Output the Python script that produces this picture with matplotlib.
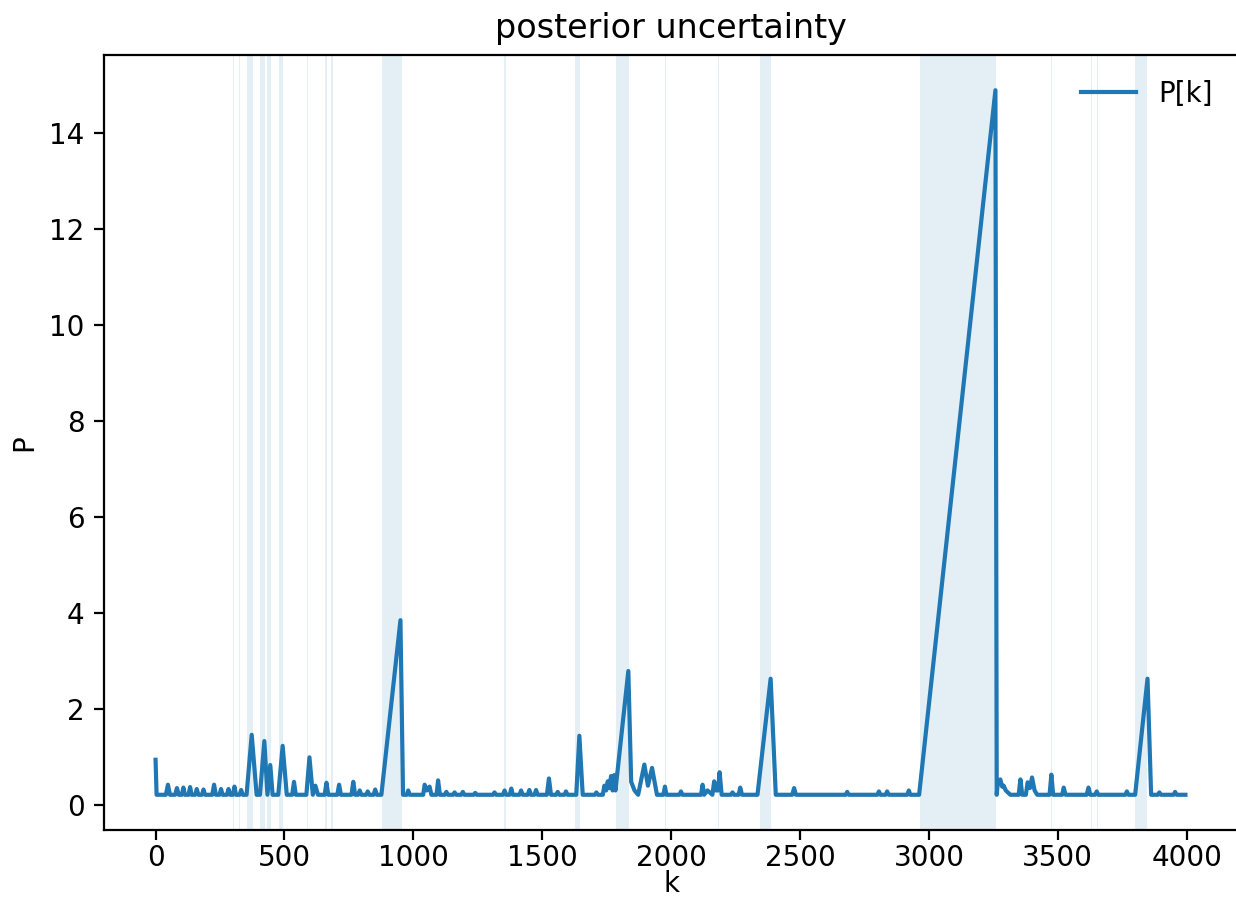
import matplotlib
matplotlib.use("Agg")
import matplotlib.pyplot as plt

B = 0.21  # floor level of P between spikes

# P[k] vertices
trace_k = [
    0, 4, 40, 48, 56, 76, 83, 90, 102, 108, 114, 128, 134, 140, 154, 160, 166,
    180, 186, 192, 220, 227, 234, 248, 254, 260, 277, 283, 289, 300, 306, 312,
    326, 332, 338, 353, 373, 392, 405, 422, 434, 445, 454, 476, 493, 509,
    530, 537, 544, 585, 597, 610, 620, 630, 656, 663, 670, 705, 712, 719,
    760, 767, 774, 786, 792, 798, 817, 823, 829, 846, 852, 858, 876, 950, 960,
    975, 980, 986, 1038, 1044, 1052, 1063, 1070, 1090, 1096, 1103, 1122, 1128,
    1134, 1154, 1160, 1166, 1186, 1192, 1198, 1234, 1240, 1246, 1309, 1315,
    1321, 1348, 1354, 1360, 1374, 1380, 1386, 1412, 1418, 1424, 1444, 1450,
    1456, 1470, 1476, 1482, 1518, 1526, 1534, 1554, 1560, 1566, 1586, 1592,
    1598, 1632, 1644, 1657, 1704, 1710, 1716, 1735, 1741, 1748, 1754, 1760,
    1767, 1773, 1779, 1784, 1834, 1845, 1858, 1872, 1896, 1910, 1926, 1945,
    1970, 1976, 1982, 2032, 2038, 2044, 2116, 2122, 2128, 2141, 2160, 2167,
    2174, 2182, 2188, 2196, 2232, 2238, 2244, 2262, 2268, 2275, 2335, 2386,
    2406, 2470, 2477, 2484, 2677, 2683, 2689, 2800, 2806, 2812, 2832, 2838,
    2844, 2916, 2922, 2928, 2962, 3258, 3263, 3268, 3277, 3284, 3290, 3298,
    3316, 3348, 3355, 3362, 3376, 3383, 3392, 3400, 3410, 3420, 3468, 3475,
    3482, 3517, 3523, 3530, 3612, 3619, 3626, 3645, 3651, 3657, 3762, 3768,
    3774, 3800, 3848, 3862, 3888, 3894, 3900, 3949, 3955, 3961, 3995,
]
trace_p = [
    0.94, B, B, 0.42, B, B, 0.35, B, B, 0.36, B, B, 0.37, B, B, 0.33, B,
    B, 0.32, B, B, 0.42, B, B, 0.33, B, B, 0.33, B, B, 0.38, B,
    B, 0.31, B, B, 1.46, B, B, 1.33, B, 0.83, B, B, 1.23, B,
    B, 0.48, B, B, 0.99, B, 0.40, B, B, 0.46, B, B, 0.42, B,
    B, 0.48, B, B, 0.30, B, B, 0.28, B, B, 0.32, B, B, 3.85, B,
    B, 0.30, B, B, 0.42, 0.30, 0.38, B, B, 0.51, B, B, 0.27,
    B, B, 0.26, B, B, 0.27, B, B, 0.25, B, B, 0.26,
    B, B, 0.30, B, B, 0.34, B, B, 0.30, B, B, 0.31,
    B, B, 0.31, B, B, 0.55, B, B, 0.27, B, B, 0.28,
    B, B, 1.44, B, B, 0.26, B, B, 0.40, 0.30, 0.49, 0.35,
    0.60, 0.30, 0.62, 0.30, 2.79, 0.48, 0.30, B, 0.84, 0.40, 0.77, B,
    B, 0.38, B, B, 0.28, B, B, 0.42, B, 0.30, B, 0.49,
    0.30, 0.30, 0.68, B, B, 0.26, B, B, 0.36, B, B, 2.63,
    B, B, 0.35, B, B, 0.27, B, B, 0.28, B, B, 0.28,
    B, B, 0.30, B, B, 14.9, B, 0.50, 0.53, 0.38, 0.40, 0.30,
    B, B, 0.53, B, B, 0.47, 0.35, 0.57, 0.30, B, B, 0.63,
    B, B, 0.36, B, B, 0.36, B, B, 0.28, B, B, 0.28,
    B, B, 2.63, B, B, 0.26, B, B, 0.27, B, B,
]

# shaded intervals (missing measurements)
gap_start = [300, 323, 355, 404, 432, 480, 588, 659, 681, 878, 1352, 1626,
             1788, 1976, 2181, 2343, 2965, 3472, 3628, 3651, 3799]
gap_end = [306, 329, 378, 423, 448, 493, 593, 665, 687, 955, 1358, 1648,
           1835, 1982, 2187, 2388, 3262, 3478, 3634, 3657, 3846]

fig = plt.figure(figsize=(6.18, 4.55), dpi=200)
ax = fig.add_axes([104 / 1236, 80 / 910, 1134 / 1236, 775 / 910])

for a, b in zip(gap_start, gap_end):
    ax.axvspan(a, b, color="tab:blue", alpha=0.12, lw=0)
ax.plot(trace_k, trace_p, label="P[k]")

ax.set_xlim(-200, 4199)
ax.tick_params(axis="x", pad=1.5)
ax.set_title("posterior uncertainty")
ax.set_xlabel("k", labelpad=-0.5)
ax.set_ylabel("P")
ax.legend(loc="upper right", frameon=False)

fig.savefig("out.png", dpi=200)
